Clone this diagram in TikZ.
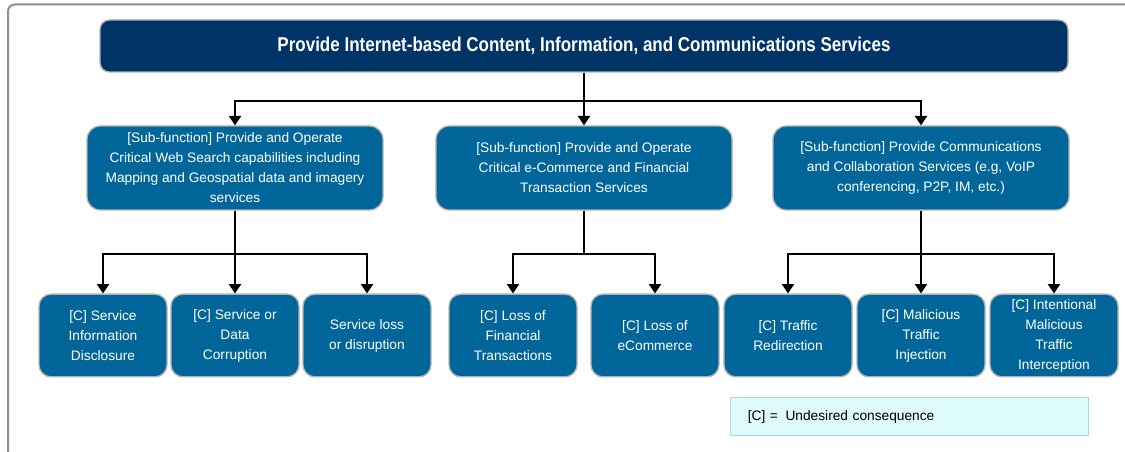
\documentclass[tikz,border=0pt]{standalone}
\usepackage{fontspec}
\setmainfont{Liberation Sans}
\newfontfamily\titlefont[FakeStretch=0.85]{Liberation Sans}
\usepackage{tikz}
\usetikzlibrary{positioning, arrows.meta}
\definecolor{navy}{HTML}{003366}
\definecolor{subblue}{HTML}{006699}
\definecolor{legendcyan}{HTML}{DDFBFD}
\definecolor{legendedge}{HTML}{A9D8DD}
\definecolor{framegray}{HTML}{8E8E96}
\tikzset{
    topbox/.style={draw=gray!60, line width=1pt, fill=navy, text=white, rounded corners=7pt,
        minimum width=726pt, minimum height=39pt, font=\titlefont\bfseries\fontsize{15}{18}\selectfont}, % the main function
    subbox/.style={draw=gray!60, line width=1pt, fill=subblue, text=white, rounded corners=10pt,
        minimum width=222pt, minimum height=63pt, align=center, inner sep=1pt,
        font=\fontsize{10.3}{15}\selectfont}, % the sub-functions
    leaf/.style={subbox, rounded corners=9pt, minimum width=96pt, minimum height=62pt}, % the consequences
    legendbox/.style={draw=legendedge, line width=0.8pt, fill=legendcyan, minimum height=29pt,
        text width=242.5pt, inner xsep=12.75pt, align=left, font=\fontsize{10.3}{15}\selectfont},
    link/.style={-{Triangle[width=9pt,length=7pt]}, line width=1.5pt}, % black connectors
}
\begin{document}
\begin{tikzpicture}[x=0.75pt, y=-0.75pt, on grid]
    \useasboundingbox (0,0) rectangle (1125,452);
    % frame, cut by the page edge
    \draw[framegray, line width=1.5pt, rounded corners=5pt] (8,453) -- (8,4.5) -- (1127,4.5);

    \node[topbox] (top) at (584,46) {Provide Internet-based Content, Information, and Communications Services};

    \node[subbox, below left=91.5pt and 261.75pt of top] (web) {[Sub-function] Provide and Operate\\Critical Web Search capabilities including\\Mapping and Geospatial data and imagery\\services};
    \node[subbox, below=91.5pt of top] (ecom) {[Sub-function] Provide and Operate\\Critical e-Commerce and Financial\\Transaction Services};
    \node[subbox, below right=91.5pt and 252.75pt of top] (comm) {[Sub-function] Provide Communications\\and Collaboration Services (e.g, VoIP\\conferencing, P2P, IM, etc.)};

    \node[leaf, below left=125.6pt and 99pt of web] (disclose) {[C] Service\\Information\\Disclosure};
    \node[leaf, below=125.6pt of web] (corrupt) {[C] Service or\\Data\\Corruption};
    \node[leaf, below right=125.6pt and 99pt of web] (outage) {Service loss\\or disruption};
    \node[leaf, below left=125.6pt and 53.25pt of ecom] (finloss) {[C] Loss of\\Financial\\Transactions};
    \node[leaf, below right=125.6pt and 53.25pt of ecom] (ecloss) {[C] Loss of\\eCommerce};
    \node[leaf, below left=125.6pt and 99.75pt of comm] (redirect) {[C] Traffic\\Redirection};
    \node[leaf, below=125.6pt of comm] (inject) {[C] Malicious\\Traffic\\Injection};
    \node[leaf, below right=125.6pt and 99.75pt of comm] (intercept) {[C] Intentional\\Malicious\\Traffic\\Interception};

    \node[legendbox] (legend) at (909.5,416.5) {[C] =\hspace{0.55em}Undesired consequence};

    \draw[link] (top) -- (ecom);
    \draw[link] (top.south) -- ++(0,28) -| (web);
    \draw[link] (top.south) -- ++(0,28) -| (comm);

    \draw[link] (web) -- (corrupt);
    \draw[link] (web.south) -- ++(0,43) -| (disclose);
    \draw[link] (web.south) -- ++(0,43) -| (outage);
    \draw[link] (ecom.south) -- ++(0,43) -| (finloss);
    \draw[link] (ecom.south) -- ++(0,43) -| (ecloss);
    \draw[link] (comm) -- (inject);
    \draw[link] (comm.south) -- ++(0,43) -| (redirect);
    \draw[link] (comm.south) -- ++(0,43) -| (intercept);
\end{tikzpicture}
\end{document}
